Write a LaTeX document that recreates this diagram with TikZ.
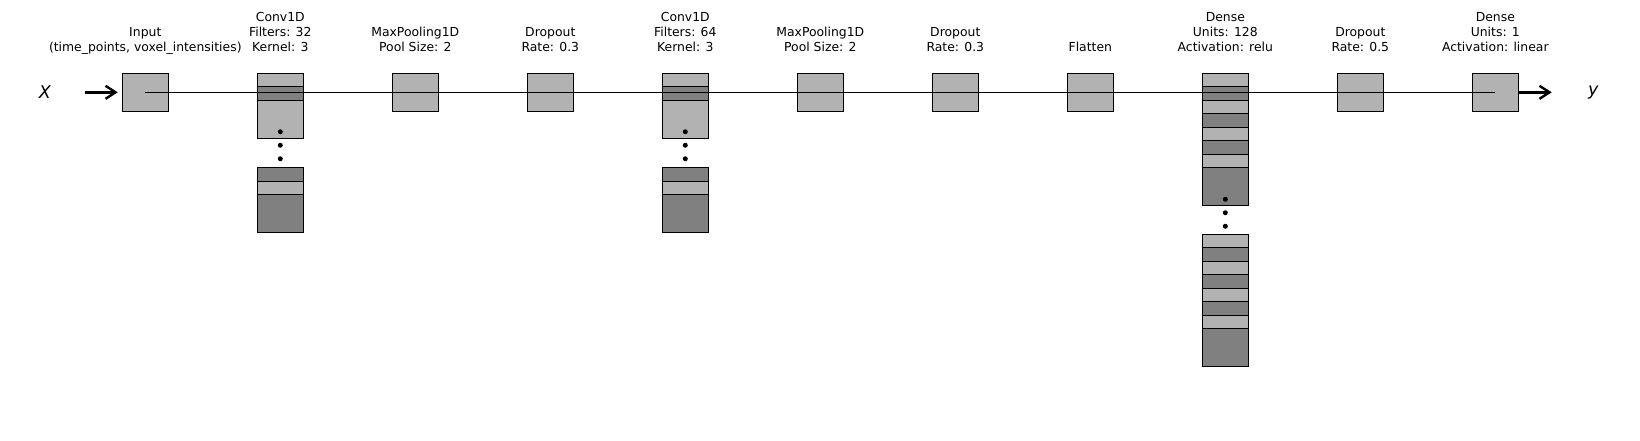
\documentclass[tikz,border=0pt]{standalone}
\usepackage{fontspec}
\setmainfont{DejaVu Sans}
\usetikzlibrary{positioning}
\usetikzlibrary{calc}
\usetikzlibrary{arrows.meta}
\tikzstyle{shade0} = [fill=black!30, draw=black, line width=1.1pt]
\tikzstyle{shade1} = [fill=black!50, draw=black, line width=1.1pt]
\tikzstyle{cell}   = [rectangle, minimum width=46pt, minimum height=38pt, inner sep=0pt]
\tikzstyle{clabel} = [align=center, anchor=south, inner sep=0pt, text depth=0pt, font=\fontsize{12.4}{14.8}\selectfont]
\tikzstyle{cdot}   = [circle, fill=black, inner sep=0pt, minimum size=5pt]
\tikzstyle{cflow}  = [line width=2.4pt, -{Straight Barb[length=10pt,width=13pt]}]
\tikzstyle{cvar}   = [inner sep=0pt, font=\fontsize{17.5}{20}\selectfont\itshape]

\begin{document}
\begin{tikzpicture}[x=1pt,y=-1pt]
  \useasboundingbox (0,0) rectangle (1640,440);
% plain layers
  \foreach \n/\i in {in/0, mp1/2, do1/3, mp2/5, do2/6, fl/7, do3/9, out/10}
    \node[cell, shade0] (\n) at (145.3+135*\i, 92.3) {};
% stacked layers: top cells, dots, bottom cells
  \foreach \n/\i/\m/\g/\s in {cv1/1/3/94.4/1, cv2/4/3/94.4/1, dn1/8/8/161/0} {
    \pgfmathtruncatemacro\last{\m-1}
    \foreach \k in {0,...,\last} {
      \pgfmathtruncatemacro\p{mod(\k,2)}
      \node[cell, shade\p] (\n-t\k) at (145.3+135*\i, 92.3+13.5*\k) {};
    }
    \foreach \k in {1,2,3}
      \node[cdot] (\n-e\k) at ($(\n-t\last.north)+(0,18.5+13.5*\k)$) {};
    \foreach \k in {0,...,\last} {
      \pgfmathtruncatemacro\p{mod(\k+\s,2)}
      \node[cell, shade\p] (\n-b\k) at (145.3+135*\i, 92.3+\g+13.5*\k) {};
    }
  }
  \draw[line width=0.9pt] (in.center) -- (out.center);
% labels
  \foreach \i/\t in {0/{Input\\(time\_points, voxel\_intensities)},
                     1/{Conv1D\\Filters: 32\\Kernel: 3},
                     2/{MaxPooling1D\\Pool Size: 2},
                     3/{Dropout\\Rate: 0.3},
                     4/{Conv1D\\Filters: 64\\Kernel: 3},
                     5/{MaxPooling1D\\Pool Size: 2},
                     6/{Dropout\\Rate: 0.3},
                     7/{Flatten},
                     8/{Dense\\Units: 128\\Activation: relu},
                     9/{Dropout\\Rate: 0.5},
                     10/{Dense\\Units: 1\\Activation: linear}}
    \node[clabel] (lab\i) at (145.3+135*\i, 51.6) {\t};
% input and output
  \node[cvar] (X) at (44.8,92.3) {X};
  \node[cvar] (Y) at (1593.3,92.3) {y};
  \coordinate (xs) at (85,92.3);
  \coordinate (ye) at (1551.7,92.3);
  \draw[cflow, shorten >=4pt] (xs) -- (in.west);
  \draw[cflow] (out.east) -- (ye);
\end{tikzpicture}
\end{document}
